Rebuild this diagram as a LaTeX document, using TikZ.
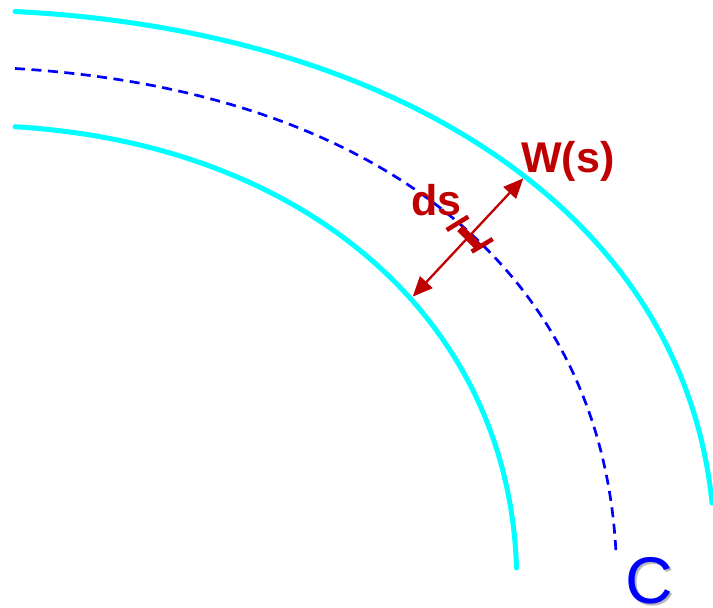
\documentclass[tikz,border=0pt]{standalone}
\usepackage{fontspec}
\setmainfont{Liberation Sans}
\usetikzlibrary{arrows.meta}
\definecolor{cyanL}{HTML}{00FFFF}
\definecolor{blueL}{HTML}{0000FF}
\definecolor{redL}{HTML}{C00000}
\tikzset{
  border/.style={draw=cyanL, line width=5pt, line cap=round},
  centerline/.style={draw=blueL, line width=2.7pt, dash pattern=on 10pt off 6.5pt},
  widtharrow/.style={draw=redL, line width=2.3pt, {Triangle[length=20pt,width=17pt]}-{Triangle[length=20pt,width=17pt]}},
  tickmark/.style={draw=redL, line width=4.5pt},
  dsbar/.style={draw=redL, line width=8pt},
  lbl/.style={text=redL, font=\bfseries\fontsize{43}{47}\selectfont, inner sep=0pt, anchor=base west},
  bigC/.style={font=\fontsize{66}{70}\selectfont, inner sep=0pt, anchor=base west},
}
\begin{document}
\begin{tikzpicture}[x=1pt,y=-1pt]
\useasboundingbox (0,0) rectangle (713,608);
% outer edge
\coordinate (o0) at (15,11.5);
\coordinate (o1) at (712,503);
\draw[border] (o0) .. controls (392.6,30.4) and (682.6,209.5) .. (o1);
% inner edge
\coordinate (i0) at (15,126.7);
\coordinate (i1) at (516.5,568);
\draw[border] (i0) .. controls (304.5,144.1) and (509,318) .. (i1);
% centre line
\coordinate (m0) at (15,68.5);
\coordinate (m1) at (616,553);
\draw[centerline] (m0) .. controls (369.4,89.8) and (601.5,263.1) .. (m1);
% width arrow
\coordinate (win) at (412.7,296.7);
\coordinate (wout) at (523.3,178.3);
\draw[widtharrow] (win) -- (wout);
% ds element
\coordinate (t1a) at (446.7,230);
\coordinate (t1b) at (468.3,216.7);
\coordinate (t2a) at (471.7,251.7);
\coordinate (t2b) at (492.7,239);
\coordinate (ba) at (460,228.3);
\coordinate (bb) at (478.3,246.7);
\draw[tickmark] (t1a) -- (t1b);
\draw[tickmark] (t2a) -- (t2b);
\draw[dsbar] (ba) -- (bb);
% labels
\node[lbl] (W) at (521,172) {W(s)};
\node[lbl] (ds) at (411,215) {ds};
\node[bigC, text=black!28] (Cs) at (627.5,605.5) {C};
\node[bigC, text=blueL] (C) at (625,603) {C};
\end{tikzpicture}
\end{document}
